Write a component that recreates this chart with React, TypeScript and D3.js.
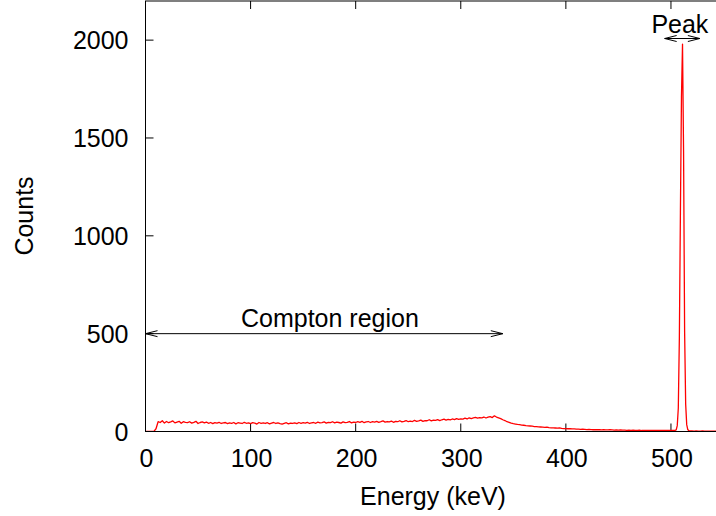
import React from "react";
import * as d3 from "d3";

// Continuum spectrum, 2 keV bins starting at 0 keV (0, 2, 4, ... 504 keV)
const continuumBinKeV = 2;
const continuumCounts = [
  0, 0, 0, 0, 1, 14, 50, 46, 55, 43,
  51, 45, 49, 54, 44, 48, 52, 42, 50, 47,
  45, 50, 43, 47, 52, 41, 46, 49, 44, 48,
  42, 46, 40, 45, 43, 47, 41, 44, 46, 40,
  44, 42, 46, 39, 45, 43, 41, 47, 42, 44,
  40, 45, 43, 38, 46, 42, 44, 41, 45, 39,
  43, 46, 41, 44, 40, 38, 42, 45, 39, 43,
  41, 44, 40, 46, 42, 45, 43, 47, 41, 44,
  46, 42, 48, 44, 45, 49, 43, 47, 45, 50,
  44, 48, 46, 43, 49, 45, 47, 51, 44, 48,
  46, 50, 47, 52, 45, 49, 51, 46, 50, 48,
  52, 47, 50, 54, 48, 51, 49, 53, 47, 52,
  50, 55, 49, 52, 56, 50, 53, 51, 57, 52,
  54, 58, 52, 56, 55, 60, 54, 58, 57, 61,
  56, 60, 63, 58, 62, 59, 64, 61, 66, 62,
  65, 63, 68, 64, 70, 66, 69, 72, 68, 71,
  70, 74, 69, 73, 76, 71, 80, 74, 70, 66,
  60, 56, 50, 47, 43, 40, 38, 36, 35, 33,
  32, 30, 29, 28, 27, 25, 25, 24, 23, 22,
  21, 22, 20, 19, 19, 18, 17, 18, 16, 15,
  15, 14, 14, 13, 13, 12, 12, 11, 12, 11,
  10, 11, 10, 9, 10, 9, 9, 8, 9, 8,
  8, 9, 8, 7, 8, 7, 8, 7, 7, 6,
  7, 6, 7, 6, 6, 7, 5, 6, 6, 5,
  6, 5, 6, 5, 5, 6, 5, 5, 6, 5,
  5, 5, 6,
];

// Photopeak, 1 keV bins
const peakEnergies = [505, 506, 507, 508, 509, 510, 511, 512, 513, 514, 515, 516, 517];
const peakCounts = [8, 30, 120, 480, 1120, 1710, 1980, 1430, 510, 140, 35, 10, 4];

// Tail after the peak, 2 keV bins starting at 518 keV
const tailStartKeV = 518;
const tailCounts = [3, 3, 2, 3, 2, 2, 3, 2, 2, 2, 2, 2, 2, 2];

const xTicks = [0, 100, 200, 300, 400, 500];
const yTicks = [0, 500, 1000, 1500, 2000];

const W = 716;
const H = 516;
const left = 145.5;
const right = 723.5;
const top = 1;
const bottom = 431.5;
const FONT = "'Liberation Sans', Arial, Helvetica, sans-serif";
const FS = 25;

function Arrow({ x1, x2, y }: { x1: number; x2: number; y: number }) {
  const hl = 12;
  const hw = 3;
  return (
    <g stroke="#000" strokeWidth={1} fill="none">
      <line x1={x1} y1={y} x2={x2} y2={y} />
      <polyline points={`${x1 + hl},${y - hw} ${x1},${y} ${x1 + hl},${y + hw}`} />
      <polyline points={`${x2 - hl},${y - hw} ${x2},${y} ${x2 - hl},${y + hw}`} />
    </g>
  );
}

export default function App() {
  const x = d3.scaleLinear().domain([0, 550]).range([left, right]);
  const y = d3.scaleLinear().domain([0, 2200]).range([bottom, top]);

  const pts: [number, number][] = [];
  continuumCounts.forEach((c, i) => pts.push([i * continuumBinKeV, c]));
  peakEnergies.forEach((e, i) => pts.push([e, peakCounts[i]]));
  tailCounts.forEach((c, i) => pts.push([tailStartKeV + i * continuumBinKeV, c]));

  const line = d3
    .line<[number, number]>()
    .x((d) => x(d[0]))
    .y((d) => y(d[1]));

  const tick = 8;

  return (
    <svg
      width={W}
      height={H}
      style={{ position: "absolute", left: 0, top: 0, background: "#fff" }}
      fontFamily={FONT}
    >
      <rect x={0} y={0} width={W} height={H} fill="#fff" />
      <defs>
        <clipPath id="plotclip">
          <rect x={left} y={top} width={right - left} height={bottom - top} />
        </clipPath>
      </defs>

      {/* y ticks */}
      {yTicks.map((t) => (
        <g key={"y" + t}>
          <line x1={left} x2={left + tick} y1={y(t)} y2={y(t)} stroke="#000" strokeWidth={1} />
          <text x={left - 17} y={y(t) + 9} textAnchor="end" fontSize={FS} fill="#000">
            {t}
          </text>
        </g>
      ))}

      {/* x ticks */}
      {xTicks.map((t) => (
        <g key={"x" + t}>
          <line x1={x(t)} x2={x(t)} y1={bottom} y2={bottom - tick} stroke="#000" strokeWidth={1} />
          <line x1={x(t)} x2={x(t)} y1={top} y2={top + tick} stroke="#000" strokeWidth={1} />
          <text x={x(t) + 1} y={467} textAnchor="middle" fontSize={FS} fill="#000">
            {t}
          </text>
        </g>
      ))}

      {/* data */}
      <path
        d={line(pts) || ""}
        fill="none"
        stroke="#ff0000"
        strokeWidth={1.3}
        strokeLinejoin="round"
        clipPath="url(#plotclip)"
      />

      {/* frame */}
      <rect x={left} y={top} width={right - left} height={bottom - top} fill="none" stroke="#000" strokeWidth={1} />

      {/* annotations */}
      <Arrow x1={x(0)} x2={x(340)} y={y(500)} />
      <text x={x(175.5)} y={327} textAnchor="middle" fontSize={FS} fill="#000">
        Compton region
      </text>
      <Arrow x1={x(494)} x2={x(527.5)} y={38.5} />
      <text x={x(508.5)} y={33} textAnchor="middle" fontSize={FS} fill="#000">
        Peak
      </text>

      {/* axis labels */}
      <text x={433} y={505} textAnchor="middle" fontSize={FS} fill="#000">
        Energy (keV)
      </text>
      <text
        transform={`translate(33,216) rotate(-90)`}
        textAnchor="middle"
        fontSize={FS}
        fill="#000"
      >
        Counts
      </text>
    </svg>
  );
}
